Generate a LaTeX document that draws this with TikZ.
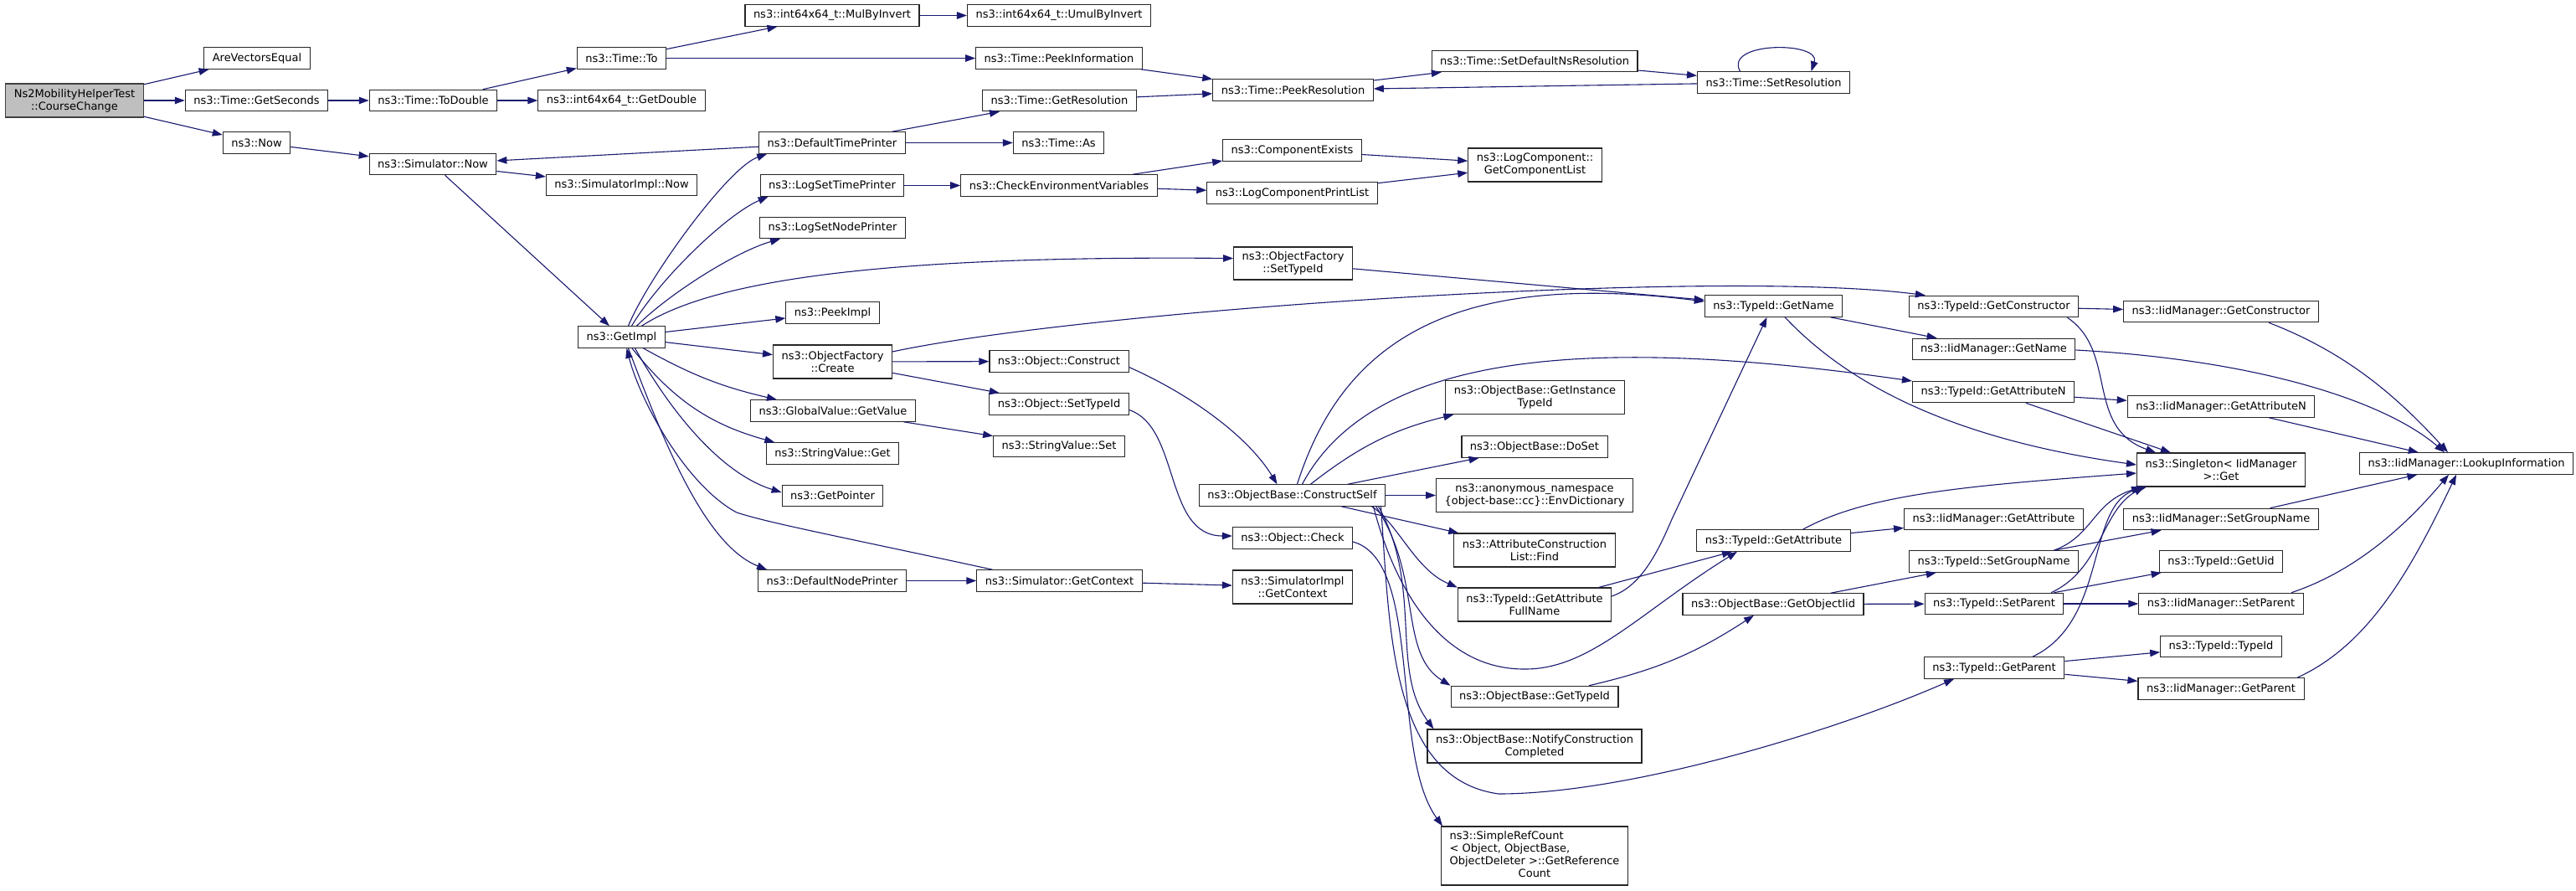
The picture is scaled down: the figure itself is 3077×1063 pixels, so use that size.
\documentclass[tikz,border=0pt]{standalone}
\usepackage{fontspec}
\setmainfont{DejaVu Sans}
\usetikzlibrary{arrows.meta}
\definecolor{edgeblue}{RGB}{25,25,112}
\definecolor{rootgray}{RGB}{191,191,191}
\begin{document}
\begin{tikzpicture}[
        x=1pt, y=-1pt,
        fn/.style = {draw=black!85, fill=white, line width=1.1pt, inner xsep=10pt, inner ysep=2pt,
                     minimum height=25.5pt, align=center, font=\fontsize{13}{15}\selectfont},
        two/.style = {minimum height=40pt},
        root/.style = {fn, fill=rootgray, draw=black!75},
        call/.style = {draw=edgeblue, line width=1.1pt, -{Triangle[length=12pt,width=8.5pt]}},
        ]
    \path[use as bounding box, fill=white] (0,0) rectangle (3077,1063);

    \node[root, two] (root) at (89,120) {Ns2MobilityHelperTest\\::CourseChange};
    \node[fn] (areeq) at (307,69.5) {AreVectorsEqual};
    \node[fn] (getsec) at (306.5,120) {ns3::Time::GetSeconds};
    \node[fn] (now) at (306.5,170.5) {ns3::Now};
    \node[fn] (todouble) at (517.5,120) {ns3::Time::ToDouble};
    \node[fn] (simnow) at (517,196) {ns3::Simulator::Now};
    \node[fn] (timeto) at (742.5,69.5) {ns3::Time::To};
    \node[fn] (getdouble) at (742.5,120) {ns3::int64x64\_t::GetDouble};
    \node[fn] (simimplnow) at (742.5,221) {ns3::SimulatorImpl::Now};
    \node[fn] (getimpl) at (742.5,402.5) {ns3::GetImpl};

    \node[fn] (mulby) at (994,18.5) {ns3::int64x64\_t::MulByInvert};
    \node[fn] (deftime) at (994,170.5) {ns3::DefaultTimePrinter};
    \node[fn] (logtime) at (994,221.5) {ns3::LogSetTimePrinter};
    \node[fn] (lognode) at (994.5,272) {ns3::LogSetNodePrinter};
    \node[fn] (peekimpl) at (994.5,373.5) {ns3::PeekImpl};
    \node[fn, two] (ofcreate) at (994.5,432) {ns3::ObjectFactory\\::Create};
    \node[fn] (gvgetvalue) at (995,490.5) {ns3::GlobalValue::GetValue};
    \node[fn] (svget) at (994.5,541.5) {ns3::StringValue::Get};
    \node[fn] (getpointer) at (994.5,592) {ns3::GetPointer};
    \node[fn] (defnode) at (994,693.5) {ns3::DefaultNodePrinter};

    \node[fn] (umulby) at (1265,18.5) {ns3::int64x64\_t::UmulByInvert};
    \node[fn] (peekinfo) at (1265,69.5) {ns3::Time::PeekInformation};
    \node[fn] (getres) at (1265.5,120) {ns3::Time::GetResolution};
    \node[fn] (timeas) at (1264.5,170.5) {ns3::Time::As};
    \node[fn] (checkenv) at (1265,221.5) {ns3::CheckEnvironmentVariables};
    \node[fn] (objconstruct) at (1265,431.5) {ns3::Object::Construct};
    \node[fn] (objsettid) at (1265,482.5) {ns3::Object::SetTypeId};
    \node[fn] (svset) at (1265,533) {ns3::StringValue::Set};
    \node[fn] (simctx) at (1265.5,693.5) {ns3::Simulator::GetContext};

    \node[fn] (peekres) at (1544.5,107.5) {ns3::Time::PeekResolution};
    \node[fn] (compexists) at (1543.5,179.5) {ns3::ComponentExists};
    \node[fn] (printlist) at (1543.5,230.5) {ns3::LogComponentPrintList};
    \node[fn, minimum height=39pt] (ofsettid) at (1544.5,314.5) {ns3::ObjectFactory\\::SetTypeId};
    \node[fn] (constructself) at (1543.5,591.5) {ns3::ObjectBase::ConstructSelf};
    \node[fn] (objcheck) at (1544,642.5) {ns3::Object::Check};
    \node[fn, two] (simimplctx) at (1544,701) {ns3::SimulatorImpl\\::GetContext};

    \node[fn] (setdefns) at (1833,73) {ns3::Time::SetDefaultNsResolution};
    \node[fn, two] (complist) at (1833.5,197) {ns3::LogComponent::\\GetComponentList};
    \node[fn, two] (instancetid) at (1833.5,474.5) {ns3::ObjectBase::GetInstance\\TypeId};
    \node[fn] (doset) at (1833,533.5) {ns3::ObjectBase::DoSet};
    \node[fn, two] (envdict) at (1833,591.5) {ns3::anonymous\_namespace\\\{object-base::cc\}::EnvDictionary};
    \node[fn, two] (acfind) at (1833,657) {ns3::AttributeConstruction\\List::Find};
    \node[fn, two] (attrfull) at (1833,722) {ns3::TypeId::GetAttribute\\FullName};
    \node[fn] (obgettid) at (1833,832) {ns3::ObjectBase::GetTypeId};
    \node[fn, two] (notify) at (1833,891) {ns3::ObjectBase::NotifyConstruction\\Completed};
    \node[fn, minimum height=70pt] (refcount) at (1833,1022) {\begin{tabular}{@{}l@{}}ns3::SimpleRefCount\\< Object, ObjectBase,\\ObjectDeleter >::GetReference\\\multicolumn{1}{@{}c@{}}{Count}\end{tabular}};

    \node[fn] (setres) at (2118.5,98.5) {ns3::Time::SetResolution};
    \node[fn] (tidgetname) at (2118.5,365.5) {ns3::TypeId::GetName};
    \node[fn] (tidgetattr) at (2118.5,645.5) {ns3::TypeId::GetAttribute};
    \node[fn] (getobjiid) at (2118,721.5) {ns3::ObjectBase::GetObjectIid};

    \node[fn] (tidgetctor) at (2381.5,366) {ns3::TypeId::GetConstructor};
    \node[fn] (iidgetname) at (2381.5,417) {ns3::IidManager::GetName};
    \node[fn] (tidgetattrn) at (2381,468) {ns3::TypeId::GetAttributeN};
    \node[fn] (iidgetattr) at (2381.5,620) {ns3::IidManager::GetAttribute};
    \node[fn] (tidsetgroup) at (2381.5,670.5) {ns3::TypeId::SetGroupName};
    \node[fn] (tidsetparent) at (2382,721) {ns3::TypeId::SetParent};
    \node[fn] (tidgetparent) at (2382,797.5) {ns3::TypeId::GetParent};

    \node[fn] (iidgetctor) at (2653,372) {ns3::IidManager::GetConstructor};
    \node[fn] (iidgetattrn) at (2653,485.5) {ns3::IidManager::GetAttributeN};
    \node[fn, two] (singleton) at (2653,561) {ns3::Singleton< IidManager\\ >::Get};
    \node[fn] (iidsetgroup) at (2653,620) {ns3::IidManager::SetGroupName};
    \node[fn] (tidgetuid) at (2653,670.5) {ns3::TypeId::GetUid};
    \node[fn] (iidsetparent) at (2653,721) {ns3::IidManager::SetParent};
    \node[fn] (tidtypeid) at (2653,772) {ns3::TypeId::TypeId};
    \node[fn] (iidgetparent) at (2653,822.5) {ns3::IidManager::GetParent};
    \node[fn] (lookup) at (2946,553.5) {ns3::IidManager::LookupInformation};

    \draw[call] (root) -- (areeq);
    \draw[call] (root) -- (getsec);
    \draw[call] (root) -- (now);
    \draw[call] (getsec) -- (todouble);
    \draw[call] (todouble) -- (timeto);
    \draw[call] (todouble) -- (getdouble);
    \draw[call] (timeto) -- (mulby);
    \draw[call] (timeto) -- (peekinfo);
    \draw[call] (mulby) -- (umulby);
    \draw[call] (peekinfo) -- (peekres);
    \draw[call] (getres) -- (peekres);
    \draw[call] (peekres) -- (setdefns);
    \draw[call] (setdefns) -- (setres);
    \draw[call] (setres) -- (peekres);
    \draw[call] ([xshift=-40pt]setres.north) .. controls +(-20,-36) and +(12,-36) .. ([xshift=45pt]setres.north);
    \draw[call] (now) -- (simnow);
    \draw[call] (simnow) -- (simimplnow);
    \draw[call] (simnow) -- (getimpl);
    \draw[call] (deftime) -- (simnow);
    \draw[call] (deftime) -- (getres);
    \draw[call] (deftime) -- (timeas);

    \draw[call] ([xshift=8pt]getimpl.north) .. controls (775,330) and (870,200) .. ([xshift=10pt]deftime.south west);
    \draw[call] ([xshift=12pt]getimpl.north) .. controls (790,330) and (870,255) .. ([xshift=10pt]logtime.south west);
    \draw[call] ([xshift=18pt]getimpl.north) .. controls (800,350) and (880,300) .. ([xshift=25pt]lognode.south west);
    \draw[call] ([xshift=24pt]getimpl.north) .. controls (850,335) and (1050,305) .. ([yshift=6pt]ofsettid.west);
    \draw[call] (getimpl) -- (peekimpl);
    \draw[call] (getimpl) -- (ofcreate);
    \draw[call] (getimpl) to[bend right=8] (gvgetvalue);
    \draw[call] (getimpl) to[bend right=18] (svget);
    \draw[call] ([xshift=16pt]getimpl.south) .. controls (800,490) and (860,565) .. ([yshift=4pt]getpointer.west);
    \draw[call] ([xshift=8pt]getimpl.south) .. controls (790,520) and (840,650) .. ([xshift=11pt]defnode.north west);
    \draw[call] ([xshift=-80pt]simctx.north) .. controls (1000,640) and (920,625) .. (880,612)
        .. controls (820,580) and (765,480) .. ([xshift=6pt]getimpl.south);

    \draw[call] (ofcreate) -- (objconstruct);
    \draw[call] (ofcreate) -- (objsettid);
    \draw[call] ([yshift=12pt]ofcreate.east) .. controls (1300,370) and (2050,320) .. ([xshift=20pt]tidgetctor.north west);
    \draw[call] ([yshift=-7pt]objconstruct.east) .. controls (1420,470) and (1490,520) .. ([xshift=-18pt]constructself.north);
    \draw[call] ([yshift=-7pt]objsettid.east) .. controls (1410,510) and (1390,640) .. ([yshift=2.5pt]objcheck.west);
    \draw[call] (gvgetvalue) -- (svset);
    \draw[call] (defnode) -- (simctx);
    \draw[call] (simctx) -- (simimplctx);
    \draw[call] (logtime) -- (checkenv);
    \draw[call] (checkenv) -- (compexists);
    \draw[call] (checkenv) -- (printlist);
    \draw[call] (compexists) -- (complist);
    \draw[call] (printlist) -- (complist);
    \draw[call] (ofsettid) -- (tidgetname);

    \draw[call] ([xshift=6pt]constructself.north) .. controls (1600,420) and (1720,320) .. ([yshift=5.5pt]tidgetname.west);
    \draw[call] ([xshift=12pt]constructself.north) .. controls (1640,420) and (1900,400) .. ([yshift=13pt]tidgetattrn.west);
    \draw[call] ([xshift=22pt]constructself.north) to[bend left=12] ([xshift=10pt]instancetid.south west);
    \draw[call] (constructself) -- (doset);
    \draw[call] (constructself) -- (envdict);
    \draw[call] (constructself) -- (acfind);
    \draw[call] ([xshift=95pt]constructself.south) .. controls (1670,625) and (1690,680) .. (attrfull.north west);
    \draw[call] ([xshift=97pt]constructself.south) .. controls (1665,700) and (1720,800) .. (1822,799)
        .. controls (1900,799) and (1960,730) .. ([xshift=-43.5pt]tidgetattr.south);
    \draw[call] ([xshift=100pt]constructself.south) .. controls (1700,690) and (1670,780) .. (obgettid.north west);
    \draw[call] ([xshift=103pt]constructself.south) .. controls (1700,700) and (1660,800) .. ([xshift=8pt]notify.north west);
    \draw[call] ([xshift=106pt]constructself.south) .. controls (1660,750) and (1660,930) .. (1790,948)
        .. controls (1950,948) and (2200,870) .. ([xshift=-48pt]tidgetparent.south);
    \draw[call] ([yshift=-4.5pt]objcheck.east) .. controls (1700,670) and (1660,900) .. ([xshift=2pt]refcount.north west);
    \draw[call] ([yshift=10pt]attrfull.east) .. controls (1960,700) and (1980,660) .. (1997,620) -- ([xshift=-8pt]tidgetname.south);
    \draw[call] (attrfull) -- (tidgetattr);

    \draw[call] (tidgetname) -- (iidgetname);
    \draw[call] ([xshift=13.5pt]tidgetname.south) .. controls (2190,440) and (2300,520) .. ([yshift=6pt]singleton.west);
    \draw[call] (tidgetctor) -- (iidgetctor);
    \draw[call] ([xshift=88pt]tidgetctor.south) .. controls (2530,420) and (2490,510) .. ([xshift=-78pt]singleton.north);
    \draw[call] ([xshift=57pt]iidgetctor.south) .. controls (2800,420) and (2860,470) .. ([xshift=-22pt]lookup.north);
    \draw[call] ([yshift=-1pt]iidgetname.east) .. controls (2700,430) and (2850,480) .. ([xshift=-26pt]lookup.north);
    \draw[call] (tidgetattrn) -- (iidgetattrn);
    \draw[call] (tidgetattrn) -- (singleton);
    \draw[call] (iidgetattrn) -- (lookup);
    \draw[call] (tidgetattr) -- (iidgetattr);
    \draw[call] ([xshift=35pt]tidgetattr.north) .. controls (2230,590) and (2350,580) .. ([yshift=-4pt]singleton.west);
    \draw[call] (iidsetgroup) -- (lookup);
    \draw[call] (tidsetgroup) -- (iidsetgroup);
    \draw[call] ([xshift=72pt]tidsetgroup.north) .. controls (2500,640) and (2500,600) .. ([xshift=-95pt]singleton.south);
    \draw[call] (getobjiid) -- (tidsetparent);
    \draw[call] (getobjiid) -- (tidsetgroup);
    \draw[call] ([xshift=65pt]obgettid.north) to[bend right=10] ([xshift=-23pt]getobjiid.south);
    \draw[call] ([xshift=68pt]tidsetparent.north) .. controls (2510,680) and (2510,610) .. ([xshift=-92pt]singleton.south);
    \draw[call] (tidsetparent) -- (iidsetparent);
    \draw[call] (tidsetparent) -- (tidgetuid);
    \draw[call] ([xshift=46pt]tidgetparent.north) .. controls (2520,740) and (2490,600) .. ([xshift=-89pt]singleton.south);
    \draw[call] (tidgetparent) -- (tidtypeid);
    \draw[call] (tidgetparent) -- (iidgetparent);
    \draw[call] ([xshift=84pt]iidsetparent.north) .. controls (2820,680) and (2880,620) .. ([xshift=-21pt]lookup.south);
    \draw[call] ([xshift=91pt]iidgetparent.north) .. controls (2830,770) and (2880,680) .. ([xshift=-12pt]lookup.south);
\end{tikzpicture}
\end{document}
